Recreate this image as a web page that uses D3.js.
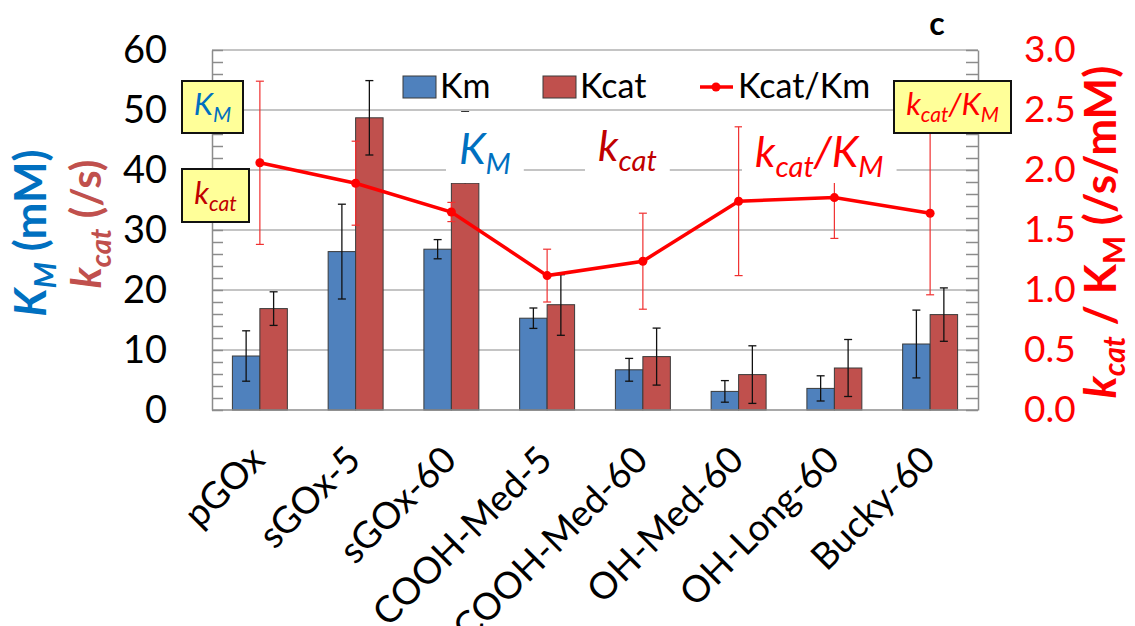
<!DOCTYPE html>
<html>
<head>
<meta charset="utf-8">
<script src="https://cdn.jsdelivr.net/npm/d3@7"></script>
<style>
  body { margin: 0; background: #fff; }
  svg text { font-family: Lato, 'Open Sans', sans-serif; }
</style>
</head>
<body>
<div class="svg-container"></div>
<script>
// data
const categories = ['pGOx', 'sGOx-5', 'sGOx-60', 'COOH-Med-5', 'COOH-Med-60', 'OH-Med-60', 'OH-Long-60', 'Bucky-60'];
const km = [9.0, 26.4, 26.8, 15.3, 6.7, 3.1, 3.6, 11.0];
const kmErr = [4.2, 7.9, 1.6, 1.7, 1.9, 1.8, 2.1, 5.65];
const kcat = [16.9, 48.7, 37.8, 17.55, 8.9, 5.9, 7.0, 15.9];
const kcatErrPlus = [2.8, 6.2, 11.9, 5.0, 4.75, 4.8, 4.75, 4.45];
const kcatErrMinus = [2.8, 6.2, 0, 5.1, 4.75, 4.8, 4.75, 4.45];
const ratio = [2.06, 1.89, 1.65, 1.12, 1.24, 1.74, 1.77, 1.64];
const ratioErr = [0.68, 0.35, 0.08, 0.22, 0.40, 0.62, 0.34, 0.68];
const leftTicks = [0, 10, 20, 30, 40, 50, 60];
const rightTicks = [0, 0.5, 1.0, 1.5, 2.0, 2.5, 3.0];

const width = 1135;
const height = 626;
const plot = { left: 212, right: 978, top: 50, bottom: 410 };
const blue = '#4f81bd';
const brick = '#c0504d';
const red = '#ff0000';
const font = "Lato, 'Open Sans', sans-serif";

const rows = categories.map((c, i) => ({
    cat: c, km: km[i], kmErr: kmErr[i], kcat: kcat[i],
    kcatPlus: kcatErrPlus[i], kcatMinus: kcatErrMinus[i],
    ratio: ratio[i], ratioErr: ratioErr[i]
}));

const svg = d3.select('.svg-container')
    .append('svg')
    .attr('width', width)
    .attr('height', height)
    .attr('font-family', font);

// scales
const x = d3.scaleBand().domain(categories).range([plot.left, plot.right])
    .paddingInner(0.426).paddingOuter(0.213);
const xSub = d3.scaleBand().domain(['Km', 'Kcat']).range([0, x.bandwidth()]);
const yL = d3.scaleLinear().domain([0, 60]).range([plot.bottom, plot.top]);
const yR = d3.scaleLinear().domain([0, 3]).range([plot.bottom, plot.top]);
const cx = (d) => x(d.cat) + x.bandwidth() / 2;

// gridlines
svg.append('g')
    .selectAll('line')
    .data(leftTicks.slice(1))
    .join('line')
    .attr('x1', plot.left).attr('x2', plot.right)
    .attr('y1', (d) => yL(d)).attr('y2', (d) => yL(d))
    .attr('stroke', '#b0b0b0').attr('stroke-width', 1.5);

// bars
const bars = svg.append('g');
bars.selectAll('.bar-km')
    .data(rows)
    .join('rect')
    .attr('class', 'bar-km')
    .attr('x', (d) => x(d.cat) + xSub('Km'))
    .attr('width', xSub.bandwidth())
    .attr('y', (d) => yL(d.km))
    .attr('height', (d) => yL(0) - yL(d.km))
    .attr('fill', blue).attr('stroke', '#3a3a3a').attr('stroke-width', 1);
bars.selectAll('.bar-kcat')
    .data(rows)
    .join('rect')
    .attr('class', 'bar-kcat')
    .attr('x', (d) => x(d.cat) + xSub('Kcat'))
    .attr('width', xSub.bandwidth())
    .attr('y', (d) => yL(d.kcat))
    .attr('height', (d) => yL(0) - yL(d.kcat))
    .attr('fill', brick).attr('stroke', '#3a3a3a').attr('stroke-width', 1);

// error bar helper
function errBar(g, xc, yTop, yBot, capTop, capBot, color, sw) {
    g.append('line').attr('x1', xc).attr('x2', xc).attr('y1', yTop).attr('y2', yBot)
        .attr('stroke', color).attr('stroke-width', sw);
    if (capTop) g.append('line').attr('x1', xc - 4).attr('x2', xc + 4).attr('y1', yTop).attr('y2', yTop)
        .attr('stroke', color).attr('stroke-width', sw);
    if (capBot) g.append('line').attr('x1', xc - 4).attr('x2', xc + 4).attr('y1', yBot).attr('y2', yBot)
        .attr('stroke', color).attr('stroke-width', sw);
}

const errG = svg.append('g');
rows.forEach((d) => {
    const xk = x(d.cat) + xSub('Km') + xSub.bandwidth() / 2;
    errBar(errG, xk, yL(d.km + d.kmErr), yL(d.km - d.kmErr), true, true, '#111', 1.3);
    const xc = x(d.cat) + xSub('Kcat') + xSub.bandwidth() / 2;
    errBar(errG, xc, yL(d.kcat + d.kcatPlus), yL(d.kcat - d.kcatMinus), d.kcatPlus > 0, d.kcatMinus > 0, '#111', 1.3);
    errBar(errG, cx(d), yR(d.ratio + d.ratioErr), yR(d.ratio - d.ratioErr), true, true, '#f03030', 1.2);
});

// Kcat/Km line
const line = d3.line().x(cx).y((d) => yR(d.ratio));
svg.append('path')
    .datum(rows)
    .attr('d', line)
    .attr('fill', 'none')
    .attr('stroke', red)
    .attr('stroke-width', 3.5);
svg.append('g')
    .selectAll('circle')
    .data(rows)
    .join('circle')
    .attr('cx', cx)
    .attr('cy', (d) => yR(d.ratio))
    .attr('r', 4.5)
    .attr('fill', red);

// axes
const axisColor = '#8c8c8c';
const leftMinor = svg.append('g')
    .attr('transform', `translate(${plot.left},0)`)
    .call(d3.axisLeft(yL).tickValues(d3.range(0, 61, 2)).tickSizeInner(-11).tickSizeOuter(0).tickFormat(''));
const leftLab = svg.append('g')
    .attr('transform', `translate(${plot.left},0)`)
    .call(d3.axisLeft(yL).tickValues(leftTicks).tickSize(0).tickPadding(45));
leftLab.select('.domain').remove();
leftLab.attr('font-family', font).attr('font-size', 38);
leftLab.selectAll('text').attr('fill', '#000');

const rightMinor = svg.append('g')
    .attr('transform', `translate(${plot.right},0)`)
    .call(d3.axisRight(yR).tickValues(d3.range(0, 31).map((v) => v / 10)).tickSizeInner(-12).tickSizeOuter(0).tickFormat(''));
const rightLab = svg.append('g')
    .attr('transform', `translate(${plot.right},0)`)
    .call(d3.axisRight(yR).tickValues(rightTicks).tickSize(0).tickPadding(46).tickFormat(d3.format('.1f')));
rightLab.select('.domain').remove();
rightLab.attr('font-family', font).attr('font-size', 37);
rightLab.selectAll('text').attr('fill', red);

[leftMinor, rightMinor].forEach((g) => {
    g.select('.domain').attr('stroke', axisColor).attr('stroke-width', 1.5);
    g.selectAll('.tick line').attr('stroke', axisColor).attr('stroke-width', 1.5);
});
// bottom border
svg.append('line').attr('x1', plot.left).attr('x2', plot.right).attr('y1', plot.bottom).attr('y2', plot.bottom)
    .attr('stroke', axisColor).attr('stroke-width', 1.5);

// category labels
svg.append('g')
    .selectAll('text')
    .data(rows)
    .join('text')
    .attr('transform', (d) => `translate(${cx(d) + 7},462) rotate(-45)`)
    .attr('text-anchor', 'end')
    .attr('font-size', 37)
    .attr('fill', '#000')
    .text((d) => d.cat);

// label with subscripts: parts = [[text, isSub]]
function richText(g, parts, size, color) {
    const t = g.append('text').attr('font-size', size).attr('fill', color).attr('font-style', 'italic');
    let down = false;
    parts.forEach((p) => {
        const ts = t.append('tspan').text(p[0]);
        if (p[1]) ts.attr('font-size', size * 0.68);
        if (p[1] && !down) { ts.attr('dy', size * 0.24); down = true; }
        else if (!p[1] && down) { ts.attr('dy', -size * 0.24); down = false; }
    });
    return t;
}

// middle labels with white background
const mids = [
    { x: 459, y: 164, color: '#0070c0', parts: [['K', false], ['M', true]] },
    { x: 598, y: 161, color: '#c00000', parts: [['k', false], ['cat', true]] },
    { x: 755, y: 167, color: red, parts: [['k', false], ['cat', true], ['/K', false], ['M', true]] }
];
mids.forEach((m) => {
    const g = svg.append('g');
    const bg = g.append('rect').attr('fill', '#fff');
    const t = richText(g, m.parts, 43, m.color).attr('x', m.x).attr('y', m.y);
    const bb = t.node().getBBox();
    bg.attr('x', bb.x - 13).attr('width', bb.width + 26).attr('y', 112).attr('height', 71);
});

// yellow boxes
const boxes = [
    { x: 182, y: 81, w: 61, h: 52, color: '#0070c0', parts: [['K', false], ['M', true]] },
    { x: 182, y: 169, w: 67, h: 53, color: '#c00000', parts: [['k', false], ['cat', true]] },
    { x: 894, y: 81, w: 117, h: 52, color: red, parts: [['k', false], ['cat', true], ['/K', false], ['M', true]] }
];
boxes.forEach((b) => {
    const g = svg.append('g');
    g.append('rect').attr('x', b.x).attr('y', b.y).attr('width', b.w).attr('height', b.h)
        .attr('fill', '#ffff99').attr('stroke', '#111').attr('stroke-width', 2);
    richText(g, b.parts, 31, b.color)
        .attr('x', b.x + b.w / 2).attr('y', b.y + b.h / 2 + 8).attr('text-anchor', 'middle');
});

// legend
const legend = svg.append('g').attr('font-size', 34);
legend.append('rect').attr('x', 403).attr('y', 76).attr('width', 33).attr('height', 22)
    .attr('fill', blue).attr('stroke', '#3a3a3a');
legend.append('text').attr('x', 440).attr('y', 98).text('Km');
legend.append('rect').attr('x', 543).attr('y', 76).attr('width', 33).attr('height', 22)
    .attr('fill', brick).attr('stroke', '#3a3a3a');
legend.append('text').attr('x', 580).attr('y', 98).text('Kcat');
legend.append('line').attr('x1', 700).attr('x2', 733).attr('y1', 87).attr('y2', 87)
    .attr('stroke', red).attr('stroke-width', 3.5);
legend.append('circle').attr('cx', 716).attr('cy', 87).attr('r', 4.5).attr('fill', red);
legend.append('text').attr('x', 738).attr('y', 98).text('Kcat/Km');

// axis titles
const tL1 = svg.append('text').attr('transform', 'translate(46,233) rotate(-90)')
    .attr('text-anchor', 'middle').attr('font-size', 44).attr('font-weight', 'bold').attr('fill', '#0070c0');
tL1.append('tspan').text('K').attr('font-style', 'italic');
tL1.append('tspan').text('M').attr('font-style', 'italic').attr('font-size', 30).attr('dy', 10);
tL1.append('tspan').text(' (mM)').attr('dy', -10);

const tL2 = svg.append('text').attr('transform', 'translate(101,224) rotate(-90)')
    .attr('text-anchor', 'middle').attr('font-size', 42).attr('font-weight', 'bold').attr('fill', brick);
tL2.append('tspan').text('k').attr('font-style', 'italic');
tL2.append('tspan').text('cat').attr('font-style', 'italic').attr('font-size', 29).attr('dy', 10);
tL2.append('tspan').text(' (/s)').attr('dy', -10);

const tR = svg.append('text').attr('transform', 'translate(1116,232) rotate(-90)')
    .attr('text-anchor', 'middle').attr('font-size', 44).attr('font-weight', 'bold').attr('fill', red);
tR.append('tspan').text('k').attr('font-style', 'italic');
tR.append('tspan').text('cat').attr('font-style', 'italic').attr('font-size', 30).attr('dy', 9);
tR.append('tspan').text(' / K').attr('dy', -9);
tR.append('tspan').text('M').attr('font-size', 30).attr('dy', 9);
tR.append('tspan').text(' (/s/mM)').attr('dy', -9);

// panel letter
svg.append('text').attr('x', 937).attr('y', 35).attr('text-anchor', 'middle')
    .attr('font-size', 32).attr('font-weight', 'bold').text('c');
</script>
</body>
</html>
